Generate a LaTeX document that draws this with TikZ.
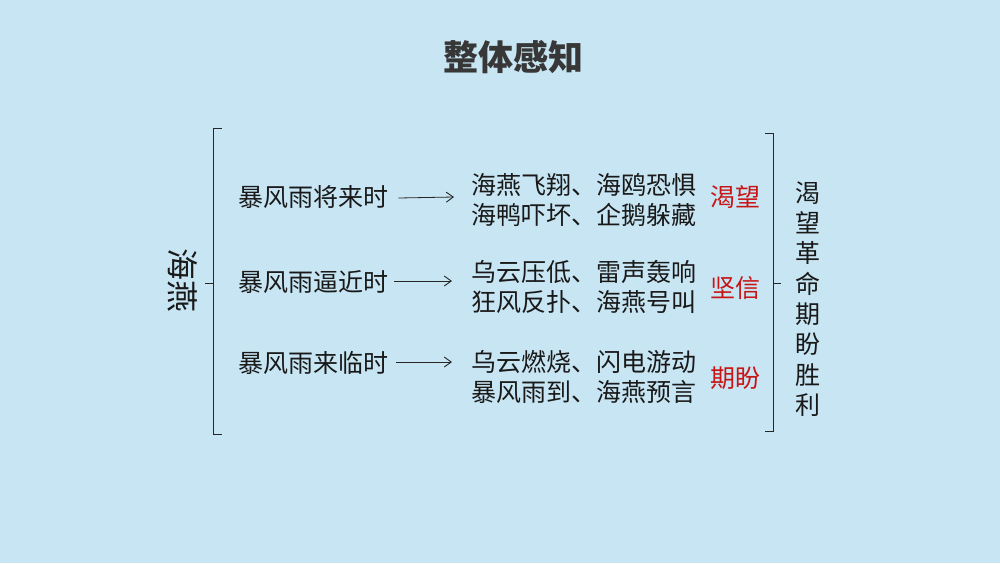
\documentclass[tikz,border=0pt]{standalone}
\usepackage{fontspec}
\setmainfont{Noto Sans CJK SC}
\newfontfamily\cjk{Noto Sans CJK SC}
\usetikzlibrary{arrows.meta}
\definecolor{bg}{RGB}{200,229,243}
\definecolor{redw}{RGB}{200,20,20}
\definecolor{ttl}{RGB}{55,55,55}
\begin{document}
\begin{tikzpicture}[x=1pt,y=-1pt,
  txt/.style={inner sep=0pt,font=\cjk\fontsize{25}{30}\selectfont,text=black!90},
  rtxt/.style={txt,align=left},
  redtxt/.style={txt,text=redw},
  conn/.style={draw=black!85,line width=0.8pt},
  arr/.style={conn,-{Straight Barb[length=7pt,width=10pt,line width=0.9pt]}},
  brace/.style={draw=black!85,line width=1pt}]
\fill[bg] (0,0) rectangle (1000,563);
\useasboundingbox (0,0) rectangle (1000,563);
\node[inner sep=0pt,font=\cjk\bfseries\fontsize{35}{35}\selectfont,text=ttl] (title) at (513,57) {整体感知};
% left brace
\coordinate (lt) at (222,128);
\coordinate (lb) at (222,434);
\coordinate (lm) at (205,283);
\draw[brace] (lt) -- (213,128) -- (213,434) -- (lb);
\draw[brace] (213,283) -- (lm);
\node[txt,rotate=-90,font=\cjk\fontsize{32}{32}\selectfont] (hy) at (183,280) {海燕};
% rows
\node[txt,anchor=west] (a1) at (238,197) {暴风雨将来时};
\node[txt,anchor=west] (a2) at (238,282) {暴风雨逼近时};
\node[txt,anchor=west] (a3) at (238,363) {暴风雨来临时};
\node[rtxt,anchor=west] (b1) at (471,200) {海燕飞翔、海鸥恐惧\\海鸭吓坏、企鹅躲藏};
\node[rtxt,anchor=west] (b2) at (471,287) {乌云压低、雷声轰响\\狂风反扑、海燕号叫};
\node[rtxt,anchor=west] (b3) at (471,377) {乌云燃烧、闪电游动\\暴风雨到、海燕预言};
\draw[arr] ([xshift=10pt,yshift=-1pt]a1.east) -- ([xshift=-17pt]b1.west|-a1.east);
\draw[arr] ([xshift=6pt,yshift=1pt]a2.east) -- ([xshift=-19pt,yshift=1pt]b2.west|-a2.east);
\draw[arr] ([xshift=8pt,yshift=1pt]a3.east) -- ([xshift=-19pt,yshift=1pt]b3.west|-a3.east);
\node[redtxt] (c1) at (735,197) {渴望};
\node[redtxt] (c2) at (735,288) {坚信};
\node[redtxt] (c3) at (735,378) {期盼};
% right brace
\coordinate (rt) at (765,133);
\coordinate (rb) at (765,431);
\coordinate (rm) at (781,283);
\draw[brace] (rt) -- (773,133) -- (773,431) -- (rb);
\draw[brace] (773,283) -- (rm);
\node[txt,align=center,font=\cjk\fontsize{25}{30.3}\selectfont] (d) at (808,299) {渴\\望\\革\\命\\期\\盼\\胜\\利};
\end{tikzpicture}
\end{document}
